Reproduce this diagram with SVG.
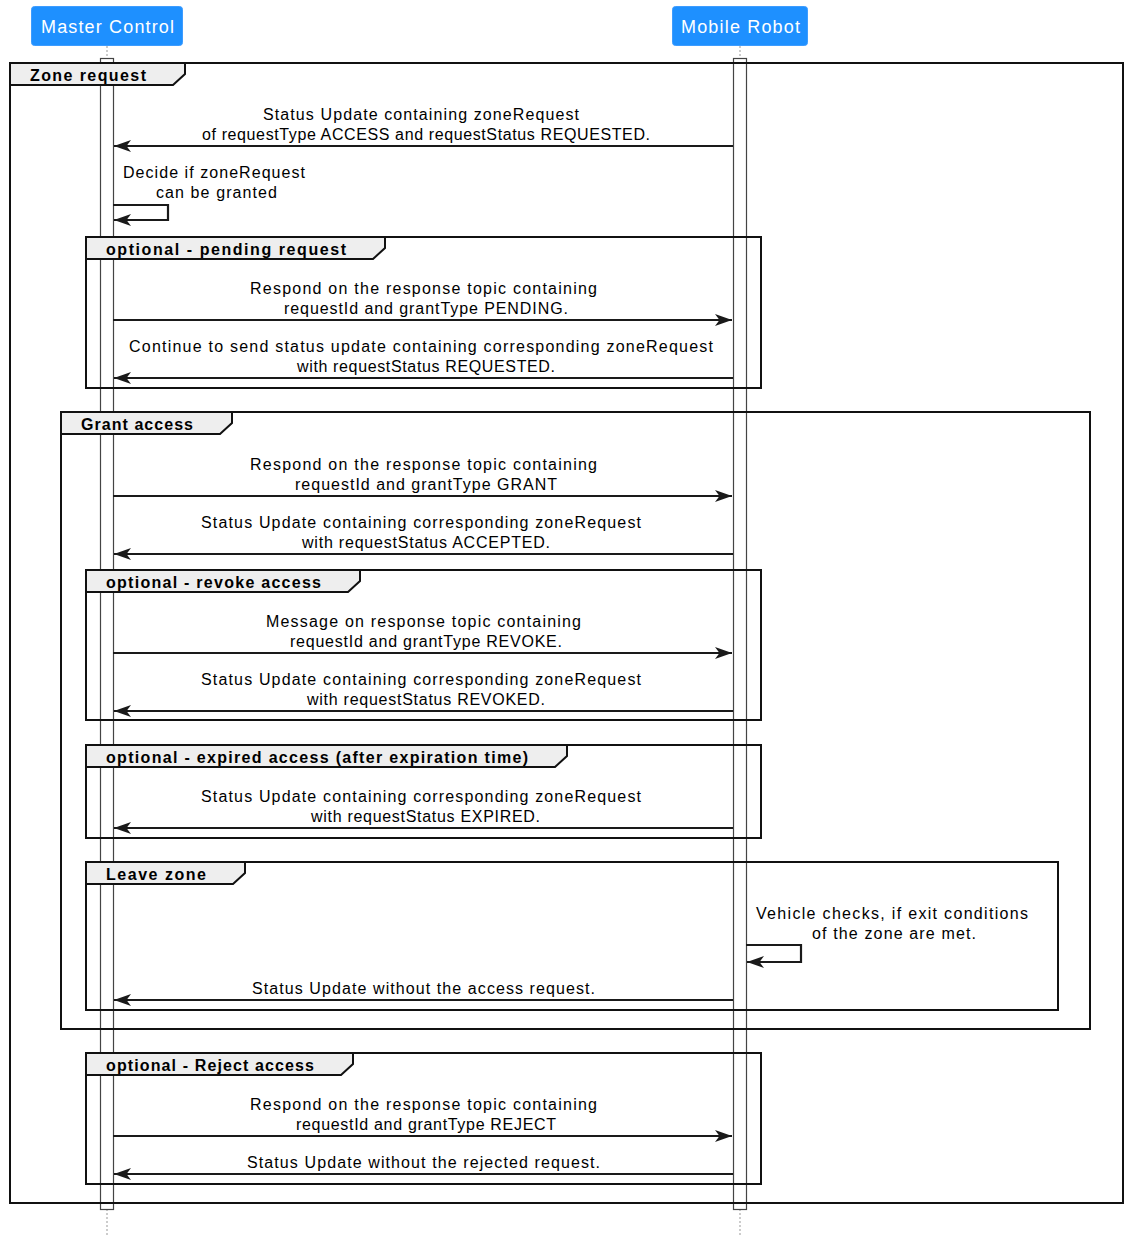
<svg xmlns="http://www.w3.org/2000/svg" width="1131" height="1243" viewBox="0 0 1131 1243">
<defs>
<marker id="arr" markerUnits="userSpaceOnUse" markerWidth="17" markerHeight="12" refX="17" refY="6" orient="auto" viewBox="0 0 17 12">
<path d="M0,0 L17,6 L0,12 L4.5,6 Z" fill="#1a1a1a"/>
</marker>
<style>
.bg{fill:#ffffff}
.head rect{fill:#1e90ff;stroke:#3d9cff;stroke-width:1}
.head text{fill:#ffffff;font-family:"Liberation Sans",Arial,sans-serif;font-size:18px;text-anchor:middle}
.life{stroke:#999;stroke-width:1;stroke-dasharray:2,2}
.act{fill:none;stroke:#444;stroke-width:1.2}
.frame{fill:none;stroke:#111;stroke-width:2}
.tab{fill:#eeeeee;stroke:#111;stroke-width:2}
.tabt{font-family:"Liberation Sans",Arial,sans-serif;font-size:16px;font-weight:bold;fill:#000}
.msg{stroke:#1a1a1a;stroke-width:2.2;fill:none;marker-end:url(#arr)}
.lbl{font-family:"Liberation Sans",Arial,sans-serif;font-size:16px;fill:#000;text-anchor:middle}
</style>
</defs>
<rect class="bg" x="0" y="0" width="1131" height="1243"/>

<g id="lifelines">
<line class="life" x1="107" y1="46" x2="107" y2="58"/>
<line class="life" x1="107" y1="1209" x2="107" y2="1235"/>
<line class="life" x1="740" y1="46" x2="740" y2="58"/>
<line class="life" x1="740" y1="1209" x2="740" y2="1235"/>
<rect class="act" x="100.5" y="58.5" width="13" height="1151"/>
<rect class="act" x="733.5" y="58.5" width="13" height="1151"/>
</g>

<g id="master-control" class="head">
<rect x="31.5" y="6.5" width="151" height="39" rx="3"/>
<text x="107.5" y="33" textLength="133">Master Control</text>
</g>
<g id="mobile-robot" class="head">
<rect x="672.5" y="6.5" width="135" height="39" rx="3"/>
<text x="740.5" y="33" textLength="119">Mobile Robot</text>
</g>

<g id="frame-zone-request">
<rect class="frame" x="10" y="63" width="1113" height="1140"/>
<path class="tab" d="M10,63 H185 V74 L173,85 H10 Z"/>
<text class="tabt" x="30" y="81" textLength="116">Zone request</text>
</g>

<g id="frame-pending">
<rect class="frame" x="86" y="237" width="675" height="151"/>
<path class="tab" d="M86,237 H385 V248 L373,259 H86 Z"/>
<text class="tabt" x="106" y="255" textLength="240">optional - pending request</text>
</g>

<g id="frame-grant">
<rect class="frame" x="61" y="412" width="1029" height="617"/>
<path class="tab" d="M61,412 H232 V423 L220,434 H61 Z"/>
<text class="tabt" x="81" y="430" textLength="112">Grant access</text>
</g>

<g id="frame-revoke">
<rect class="frame" x="86" y="570" width="675" height="150"/>
<path class="tab" d="M86,570 H360 V581 L348,592 H86 Z"/>
<text class="tabt" x="106" y="588" textLength="215">optional - revoke access</text>
</g>

<g id="frame-expired">
<rect class="frame" x="86" y="745" width="675" height="93"/>
<path class="tab" d="M86,745 H567 V756 L555,767 H86 Z"/>
<text class="tabt" x="106" y="763" textLength="422">optional - expired access (after expiration time)</text>
</g>

<g id="frame-leave">
<rect class="frame" x="86" y="862" width="972" height="148"/>
<path class="tab" d="M86,862 H245 V873 L233,884 H86 Z"/>
<text class="tabt" x="106" y="880" textLength="100">Leave zone</text>
</g>

<g id="frame-reject">
<rect class="frame" x="86" y="1053" width="675" height="131"/>
<path class="tab" d="M86,1053 H353 V1064 L341,1075 H86 Z"/>
<text class="tabt" x="106" y="1071" textLength="208">optional - Reject access</text>
</g>

<g id="connectors">
<line class="msg" x1="733" y1="146" x2="114" y2="146"/>
<path class="msg" d="M113,205 H168 V220 H114"/>
<line class="msg" x1="113" y1="320" x2="732" y2="320"/>
<line class="msg" x1="733" y1="378" x2="114" y2="378"/>
<line class="msg" x1="113" y1="496" x2="732" y2="496"/>
<line class="msg" x1="733" y1="554" x2="114" y2="554"/>
<line class="msg" x1="113" y1="653" x2="732" y2="653"/>
<line class="msg" x1="733" y1="711" x2="114" y2="711"/>
<line class="msg" x1="733" y1="828" x2="114" y2="828"/>
<path class="msg" d="M746,945 H801 V962 H747"/>
<line class="msg" x1="733" y1="1000" x2="114" y2="1000"/>
<line class="msg" x1="113" y1="1136" x2="732" y2="1136"/>
<line class="msg" x1="733" y1="1174" x2="114" y2="1174"/>
</g>

<g id="labels">
<text class="lbl" x="421" y="120" textLength="316">Status Update containing zoneRequest</text>
<text class="lbl" x="426" y="140" textLength="448">of requestType ACCESS and requestStatus REQUESTED.</text>
<text class="lbl" x="214" y="178" textLength="182">Decide if zoneRequest</text>
<text class="lbl" x="216.5" y="198" textLength="121">can be granted</text>
<text class="lbl" x="423.5" y="294" textLength="347">Respond on the response topic containing</text>
<text class="lbl" x="426" y="314" textLength="284">requestId and grantType PENDING.</text>
<text class="lbl" x="421" y="352" textLength="584">Continue to send status update containing corresponding zoneRequest</text>
<text class="lbl" x="426" y="372" textLength="258">with requestStatus REQUESTED.</text>
<text class="lbl" x="423.5" y="470" textLength="347">Respond on the response topic containing</text>
<text class="lbl" x="426" y="490" textLength="262">requestId and grantType GRANT</text>
<text class="lbl" x="421" y="528" textLength="440">Status Update containing corresponding zoneRequest</text>
<text class="lbl" x="426" y="548" textLength="248">with requestStatus ACCEPTED.</text>
<text class="lbl" x="423.5" y="627" textLength="315">Message on response topic containing</text>
<text class="lbl" x="426" y="647" textLength="272">requestId and grantType REVOKE.</text>
<text class="lbl" x="421" y="685" textLength="440">Status Update containing corresponding zoneRequest</text>
<text class="lbl" x="426" y="705" textLength="238">with requestStatus REVOKED.</text>
<text class="lbl" x="421" y="802" textLength="440">Status Update containing corresponding zoneRequest</text>
<text class="lbl" x="425.5" y="822" textLength="229">with requestStatus EXPIRED.</text>
<text class="lbl" x="892" y="919" textLength="272">Vehicle checks, if exit conditions</text>
<text class="lbl" x="894" y="939" textLength="164">of the zone are met.</text>
<text class="lbl" x="423.5" y="994" textLength="343">Status Update without the access request.</text>
<text class="lbl" x="423.5" y="1110" textLength="347">Respond on the response topic containing</text>
<text class="lbl" x="426" y="1130" textLength="260">requestId and grantType REJECT</text>
<text class="lbl" x="423.5" y="1168" textLength="353">Status Update without the rejected request.</text>
</g>
</svg>
